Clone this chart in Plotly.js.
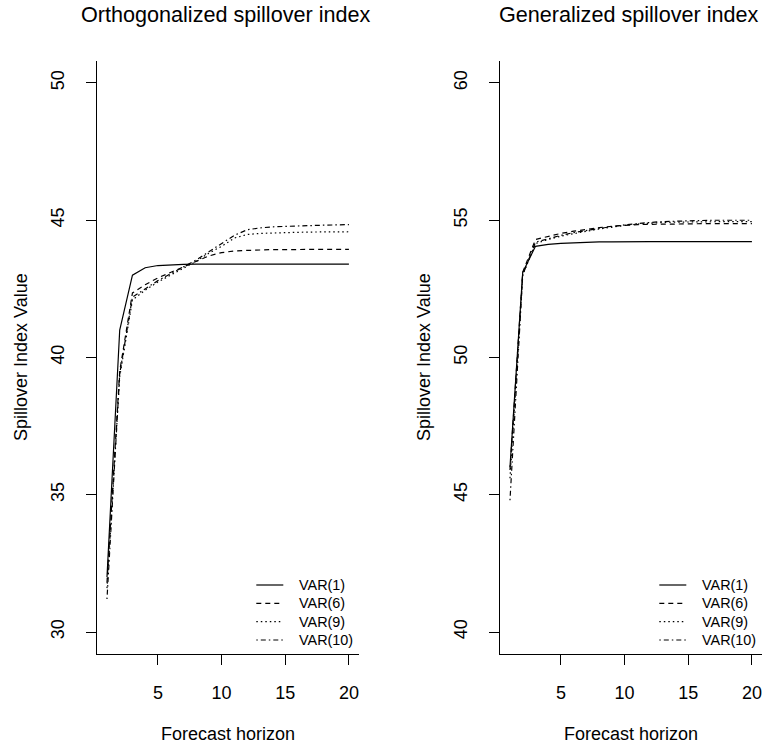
<!DOCTYPE html>
<html>
<head>
<meta charset="utf-8">
<script src="https://cdn.plot.ly/plotly-3.0.1.min.js"></script>
<style>html,body{margin:0;padding:0;background:#fff}#chart{width:763px;height:749px}</style>
</head>
<body>
<div id="chart"></div>
<script>
// ---- data ----
const horizon = [1,2,3,4,5,6,7,8,9,10,11,12,13,14,15,16,17,18,19,20];
const seriesNames = ["VAR(1)","VAR(6)","VAR(9)","VAR(10)"];

// Orthogonalized spillover index
const orthVar1  = [32.0,41.0,43.0,43.27,43.35,43.38,43.39,43.4,43.4,43.4,43.4,43.4,43.4,43.4,43.4,43.4,43.4,43.4,43.4,43.4];
const orthVar6  = [31.8,39.5,42.35,42.65,42.9,43.1,43.3,43.5,43.7,43.82,43.88,43.9,43.92,43.93,43.93,43.94,43.94,43.94,43.94,43.94];
const orthVar9  = [31.6,39.3,42.1,42.45,42.75,43.0,43.25,43.5,43.8,44.05,44.35,44.48,44.52,44.54,44.55,44.56,44.57,44.57,44.58,44.58];
const orthVar10 = [31.2,39.4,42.2,42.5,42.8,43.05,43.3,43.55,43.85,44.15,44.45,44.65,44.72,44.76,44.78,44.8,44.81,44.82,44.83,44.84];

// Generalized spillover index
const genVar1  = [46.0,53.1,54.05,54.12,54.16,54.18,54.2,54.21,54.21,54.22,54.22,54.22,54.22,54.22,54.22,54.22,54.22,54.22,54.22,54.22];
const genVar6  = [45.9,53.1,54.3,54.42,54.52,54.6,54.67,54.73,54.78,54.82,54.84,54.85,54.86,54.87,54.87,54.88,54.88,54.88,54.88,54.88];
const genVar9  = [45.6,53.0,54.15,54.3,54.42,54.52,54.6,54.68,54.75,54.81,54.86,54.9,54.92,54.93,54.94,54.94,54.95,54.95,54.95,54.95];
const genVar10 = [44.8,53.0,54.2,54.33,54.45,54.55,54.63,54.7,54.77,54.83,54.88,54.92,54.95,54.97,54.98,54.99,55.0,55.0,55.0,55.0];

const xTicks = [5,10,15,20];
const orthYTicks = [30,35,40,45,50];
const genYTicks = [40,45,50,55,60];

const titleLeft = "Orthogonalized spillover index";
const titleRight = "Generalized spillover index";
const xLabel = "Forecast horizon";
const yLabel = "Spillover Index Value";

// ---- styling ----
const W = 763, H = 749;
const FONT = "Liberation Sans, Arial, Helvetica, sans-serif";
const dashes = ["solid", "5px,4px", "1.5px,3px", "1.5px,3px,5px,3px"];

const orthSeries = [orthVar1, orthVar6, orthVar9, orthVar10];
const genSeries = [genVar1, genVar6, genVar9, genVar10];

const traces = [];
orthSeries.forEach((ys, i) => traces.push({
  x: horizon, y: ys, type: "scatter", mode: "lines", name: seriesNames[i],
  xaxis: "x", yaxis: "y", showlegend: false,
  line: {color: "#000", width: 1.2, dash: dashes[i]}
}));
genSeries.forEach((ys, i) => traces.push({
  x: horizon, y: ys, type: "scatter", mode: "lines", name: seriesNames[i],
  xaxis: "x2", yaxis: "y2", showlegend: false,
  line: {color: "#000", width: 1.2, dash: dashes[i]}
}));

const yDom = [1 - 654/H, 1 - 61/H];
const axBase = {
  showline: true, linecolor: "#000", linewidth: 1, mirror: false,
  showgrid: false, zeroline: false, ticks: "outside", ticklen: 10, tickwidth: 1, tickcolor: "#000",
  tickfont: {family: FONT, size: 18, color: "#000"}
};

// panel left edges (px) used for legend placement
const panelLeft = [97.3, 500.3];
const legendRowY = [585, 603.3, 621.7, 640];

const shapes = [];
const annotations = [
  {text: titleLeft, xref: "paper", yref: "paper", x: 225/W, y: 1 - 14/H, xanchor: "center", yanchor: "middle", showarrow: false, font: {family: FONT, size: 21.6, color: "#000"}},
  {text: titleRight, xref: "paper", yref: "paper", x: 628/W, y: 1 - 14/H, xanchor: "center", yanchor: "middle", showarrow: false, font: {family: FONT, size: 21.6, color: "#000"}},
  {text: xLabel, xref: "paper", yref: "paper", x: 228/W, y: 1 - 734/H, xanchor: "center", yanchor: "middle", showarrow: false, font: {family: FONT, size: 18, color: "#000"}},
  {text: xLabel, xref: "paper", yref: "paper", x: 631/W, y: 1 - 734/H, xanchor: "center", yanchor: "middle", showarrow: false, font: {family: FONT, size: 18, color: "#000"}},
  {text: yLabel, xref: "paper", yref: "paper", x: 21/W, y: 1 - 357/H, xanchor: "center", yanchor: "middle", textangle: -90, showarrow: false, font: {family: FONT, size: 18, color: "#000"}},
  {text: yLabel, xref: "paper", yref: "paper", x: 424/W, y: 1 - 357/H, xanchor: "center", yanchor: "middle", textangle: -90, showarrow: false, font: {family: FONT, size: 18, color: "#000"}}
];
panelLeft.forEach(px => {
  seriesNames.forEach((nm, i) => {
    const yy = 1 - legendRowY[i]/H;
    shapes.push({type: "line", xref: "paper", yref: "paper",
      x0: (px + 159)/W, x1: (px + 186)/W, y0: yy, y1: yy,
      line: {color: "#000", width: 1.2, dash: dashes[i]}});
    annotations.push({text: nm, xref: "paper", yref: "paper", x: (px + 200)/W, y: yy,
      xanchor: "left", yanchor: "middle", showarrow: false,
      font: {family: FONT, size: 14.4, color: "#000"}});
  });
});

const layout = {
  width: W, height: H,
  margin: {l: 0, r: 0, t: 0, b: 0},
  paper_bgcolor: "#fff", plot_bgcolor: "#fff",
  font: {family: FONT, color: "#000"},
  showlegend: false,
  xaxis: Object.assign({}, axBase, {domain: [97.3/W, 358.6/W], range: [0.24, 20.76], tickvals: xTicks, anchor: "y", ticklabelstandoff: 12}),
  yaxis: Object.assign({}, axBase, {domain: yDom, range: [29.2, 50.8], tickvals: orthYTicks, anchor: "x", tickangle: -90, ticklabelstandoff: 15}),
  xaxis2: Object.assign({}, axBase, {domain: [500.3/W, 761.6/W], range: [0.24, 20.76], tickvals: xTicks, anchor: "y2", ticklabelstandoff: 12}),
  yaxis2: Object.assign({}, axBase, {domain: yDom, range: [39.2, 60.8], tickvals: genYTicks, anchor: "x2", tickangle: -90, ticklabelstandoff: 15}),
  shapes: shapes,
  annotations: annotations
};

Plotly.newPlot("chart", traces, layout, {displayModeBar: false, staticPlot: true});
</script>
</body>
</html>
